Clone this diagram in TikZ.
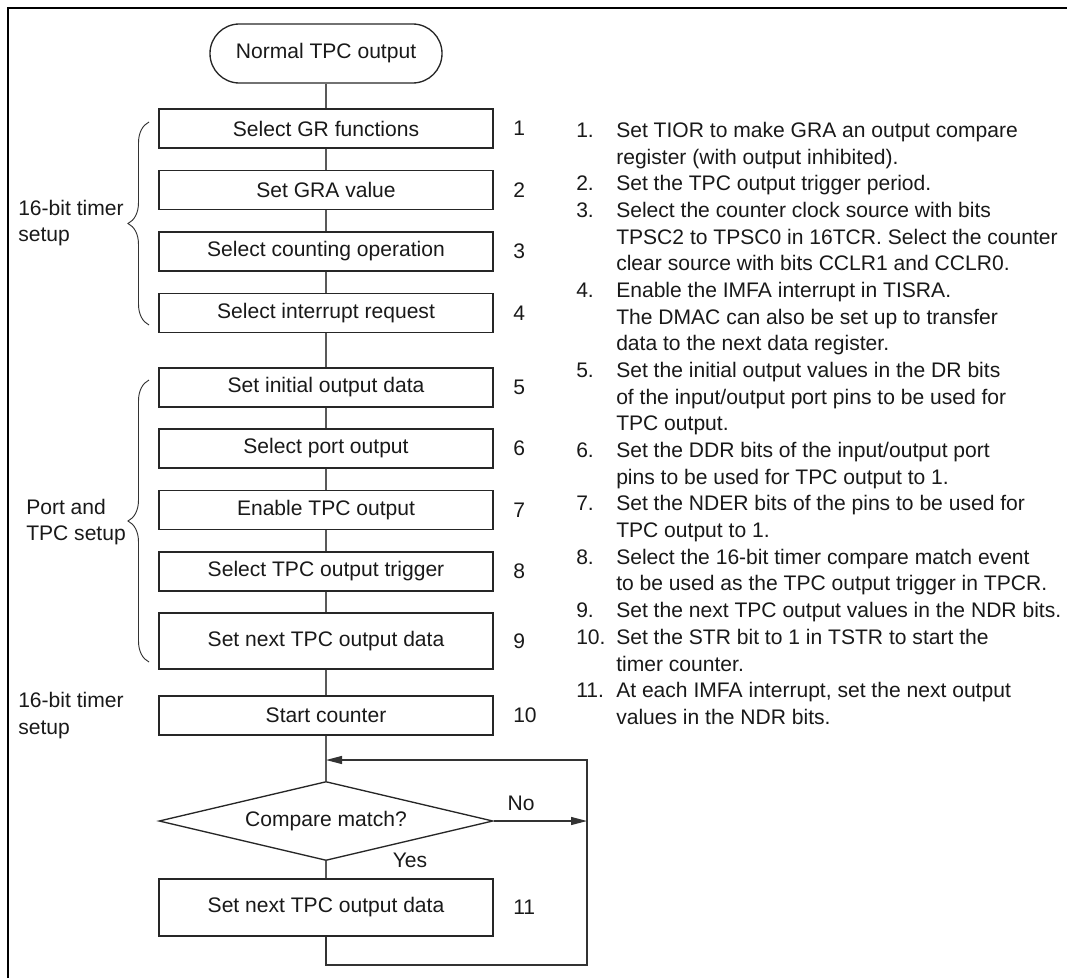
\documentclass[tikz,border=0pt]{standalone}
\usepackage{fontspec}
\setmainfont{Liberation Sans}
\usetikzlibrary{arrows.meta,shapes.geometric,decorations.pathreplacing}
\newcommand\listline[3]{\node[anchor=base west] (#2) at (616,{137.6+26.67*#1}) {#3};}
\newcommand\listnum[3]{\node[anchor=base west] (#2) at (576,{137.6+26.67*#1}) {#3};}
\begin{document}
\begin{tikzpicture}[x=0.75pt,y=-0.75pt,
  every node/.style={font=\fontsize{15.8}{20}\selectfont, inner sep=0pt, text=black!90},
  box/.style={draw=black!85, line width=1pt, minimum width=250.5pt, minimum height=29.25pt},
  term/.style={draw=black!85, line width=1pt, rounded corners=22pt, minimum width=174pt, minimum height=44.25pt},
  dia/.style={draw=black!85, line width=1pt, diamond, aspect=4.2, minimum width=250.5pt, minimum height=59.25pt},
  conn/.style={draw=black!65, line width=0.9pt},
  loopl/.style={draw=black!80, line width=0.9pt},
  arr/.style={-{Triangle[length=12pt,width=6pt]}},
  brc/.style={draw=black!80, line width=0.7pt, decorate, decoration={brace, amplitude=15.75pt}},
  grp/.style={align=left, anchor=west},
  num/.style={anchor=west}
]
\useasboundingbox (0,0) rectangle (1067,978);
% frame
\draw[line width=1.7pt] (7.8,978) -- (7.8,7.8) -- (1067,7.8);

% flowchart nodes
\node[term] (start) at (326,53.5) {Normal TPC output};
\node[box] (b1) at (326,128.5) {Select GR functions};
\node[box] (b2) at (326,190) {Set GRA value};
\node[box] (b3) at (326,251.5) {Select counting operation};
\node[box] (b4) at (326,313) {Select interrupt request};
\node[box] (b5) at (326,387.5) {Set initial output data};
\node[box] (b6) at (326,448.5) {Select port output};
\node[box] (b7) at (326,510) {Enable TPC output};
\node[box] (b8) at (326,571.5) {Select TPC output trigger};
\node[box, minimum height=42pt] (b9) at (326,641) {Set next TPC output data};
\node[box] (b10) at (326,715.5) {Start counter};
\node[dia] (dec) at (326,821) {Compare match?};
\node[box, minimum height=42.75pt] (b11) at (326,907.5) {Set next TPC output data};

% step numbers
\node[num] (n1) at (513,128.5) {1};
\node[num] (n2) at (513,190) {2};
\node[num] (n3) at (513,251.5) {3};
\node[num] (n4) at (513,313) {4};
\node[num] (n5) at (513,387.5) {5};
\node[num] (n6) at (513,448.5) {6};
\node[num] (n7) at (513,510) {7};
\node[num] (n8) at (513,571.5) {8};
\node[num] (n9) at (513,641) {9};
\node[num] (n10) at (513,715.5) {10};
\node[num] (n11) at (513,907.5) {11};

% connectors
\draw[conn] (start) -- (b1);
\draw[conn] (b1) -- (b2);
\draw[conn] (b2) -- (b3);
\draw[conn] (b3) -- (b4);
\draw[conn] (b4) -- (b5);
\draw[conn] (b5) -- (b6);
\draw[conn] (b6) -- (b7);
\draw[conn] (b7) -- (b8);
\draw[conn] (b8) -- (b9);
\draw[conn] (b9) -- (b10);
\draw[conn] (b10) -- (dec);
\draw[conn] (dec) -- (b11);

\coordinate (jn) at (326,760);
\coordinate (loopR) at (587,760);
\coordinate (loopB) at (326,965);
\coordinate (loopBR) at (587,965);
\coordinate (noR) at (587,821);
\draw[loopl, arr] (b11.south) -- (loopB) -- (loopBR) -- (loopR) -- (jn);
\draw[loopl, arr] (dec.east) -- (noR);
\node (no) at (521,803) {No};
\node (yes) at (410,860) {Yes};

% braces and group labels
\coordinate (br1b) at (149,325);
\coordinate (br1t) at (149,122);
\coordinate (br2b) at (149,662);
\coordinate (br2t) at (149,380);
\draw[brc] (br1b) -- (br1t);
\draw[brc] (br2b) -- (br2t);
\node[grp] (g1) at (18,223) {16-bit timer\\setup};
\node[grp] (g2) at (26,522) {Port and\\TPC setup};
\node[grp] (g3) at (18,715.5) {16-bit timer\\setup};

% notes
\listnum{0}{m1}{1.}
\listline{0}{t0}{Set TIOR to make GRA an output compare}
\listline{1}{t1}{register (with output inhibited).}
\listnum{2}{m2}{2.}
\listline{2}{t2}{Set the TPC output trigger period.}
\listnum{3}{m3}{3.}
\listline{3}{t3}{Select the counter clock source with bits}
\listline{4}{t4}{TPSC2 to TPSC0 in 16TCR. Select the counter}
\listline{5}{t5}{clear source with bits CCLR1 and CCLR0.}
\listnum{6}{m4}{4.}
\listline{6}{t6}{Enable the IMFA interrupt in TISRA.}
\listline{7}{t7}{The DMAC can also be set up to transfer}
\listline{8}{t8}{data to the next data register.}
\listnum{9}{m5}{5.}
\listline{9}{t9}{Set the initial output values in the DR bits}
\listline{10}{t10}{of the input/output port pins to be used for}
\listline{11}{t11}{TPC output.}
\listnum{12}{m6}{6.}
\listline{12}{t12}{Set the DDR bits of the input/output port}
\listline{13}{t13}{pins to be used for TPC output to 1.}
\listnum{14}{m7}{7.}
\listline{14}{t14}{Set the NDER bits of the pins to be used for}
\listline{15}{t15}{TPC output to 1.}
\listnum{16}{m8}{8.}
\listline{16}{t16}{Select the 16-bit timer compare match event}
\listline{17}{t17}{to be used as the TPC output trigger in TPCR.}
\listnum{18}{m9}{9.}
\listline{18}{t18}{Set the next TPC output values in the NDR bits.}
\listnum{19}{m10}{10.}
\listline{19}{t19}{Set the STR bit to 1 in TSTR to start the}
\listline{20}{t20}{timer counter.}
\listnum{21}{m11}{11.}
\listline{21}{t21}{At each IMFA interrupt, set the next output}
\listline{22}{t22}{values in the NDR bits.}
\end{tikzpicture}
\end{document}
